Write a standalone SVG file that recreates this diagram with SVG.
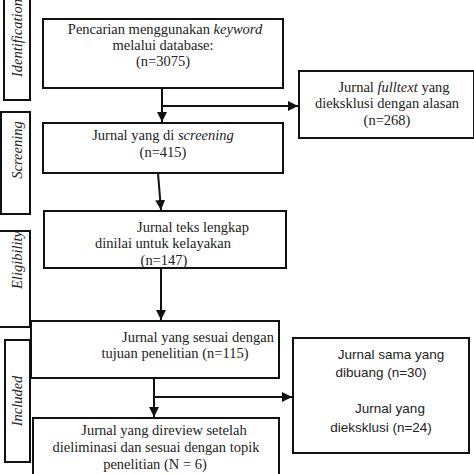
<svg xmlns="http://www.w3.org/2000/svg" width="474" height="474" viewBox="0 0 474 474">
<style>
.box{fill:#fff;stroke:#111;stroke-width:2}
.side{fill:#fff;stroke:#111;stroke-width:2}
.t{font-family:"Liberation Serif","Times New Roman",serif;font-size:14.5px;fill:#222;text-anchor:middle}
.s{font-family:"Liberation Sans",Arial,sans-serif;font-size:13.5px;fill:#222;text-anchor:middle}
.lab{font-family:"Liberation Serif","Times New Roman",serif;font-size:14.5px;font-style:italic;fill:#222;text-anchor:middle}
.ln{stroke:#111;stroke-width:2;fill:none}
</style>
<defs>
<marker id="ah" viewBox="0 0 10 10" refX="10" refY="5" markerWidth="5" markerHeight="5" orient="auto" markerUnits="strokeWidth">
<path d="M0,0 L10,5 L0,10 z" fill="#111"/>
</marker>
</defs>
<rect width="474" height="474" fill="#fff"/>
<g id="side-identification">
<rect class="side" x="4" y="-4" width="26" height="104"/>
<text class="lab" transform="translate(22,38) rotate(-90)">Identification</text>
</g>
<g id="side-screening">
<rect class="side" x="1" y="112" width="29" height="102"/>
<text class="lab" transform="translate(22,150) rotate(-90)">Screening</text>
</g>
<g id="side-eligibility">
<rect class="side" x="-2" y="231" width="32" height="96"/>
<text class="lab" transform="translate(22,260) rotate(-90)">Eligibility</text>
</g>
<g id="side-included">
<rect class="side" x="5" y="340" width="25" height="122"/>
<text class="lab" transform="translate(22,401) rotate(-90)">Included</text>
</g>
<g id="connectors">
<line class="ln" x1="162" y1="88" x2="162" y2="122" marker-end="url(#ah)"/>
<line class="ln" x1="162" y1="106" x2="298" y2="106" marker-end="url(#ah)"/>
<line class="ln" x1="158" y1="173" x2="161" y2="210" stroke-width="2.5" marker-end="url(#ah)"/>
<line class="ln" x1="161" y1="268" x2="161" y2="320" marker-end="url(#ah)"/>
<line class="ln" x1="154" y1="378" x2="154" y2="417" marker-end="url(#ah)"/>
<line class="ln" x1="154" y1="397" x2="292" y2="397" marker-end="url(#ah)"/>
</g>
<g id="box-search">
<rect class="box" x="43" y="19" width="240" height="69"/>
<text class="t" x="165" y="34">Pencarian menggunakan <tspan font-style="italic">keyword</tspan></text>
<text class="t" x="163" y="50">melalui database:</text>
<text class="t" x="163" y="66">(n=3075)</text>
</g>
<g id="box-fulltext">
<rect class="box" x="299" y="71" width="175" height="67"/>
<text class="t" x="394" y="92">Jurnal <tspan font-style="italic">fulltext</tspan> yang</text>
<text class="t" x="387" y="108">dieksklusi dengan alasan</text>
<text class="t" x="387" y="125">(n=268)</text>
</g>
<g id="box-screening">
<rect class="box" x="43" y="123" width="240" height="50"/>
<text class="t" x="163" y="140">Jurnal yang di <tspan font-style="italic">screening</tspan></text>
<text class="t" x="163" y="157">(n=415)</text>
</g>
<g id="box-eligibility">
<rect class="box" x="44" y="211" width="242" height="57"/>
<text class="t" x="193" y="232">Jurnal teks lengkap</text>
<text class="t" x="163" y="248">dinilai untuk kelayakan</text>
<text class="t" x="164" y="265">(n=147)</text>
</g>
<g id="box-sesuai">
<rect class="box" x="31" y="321" width="248" height="57"/>
<text class="t" x="198" y="342">Jurnal yang sesuai dengan</text>
<text class="t" x="175" y="358">tujuan penelitian  (n=115)</text>
</g>
<g id="box-excluded">
<rect class="box" x="293" y="338" width="176" height="115"/>
<text class="s" x="391" y="359">Jurnal sama yang</text>
<text class="s" x="381" y="377">dibuang (n=30)</text>
<text class="s" x="390" y="413">Jurnal yang</text>
<text class="s" x="381" y="432">dieksklusi (n=24)</text>
</g>
<g id="box-final">
<rect class="box" x="33" y="418" width="246" height="60"/>
<text class="t" x="164" y="435">Jurnal yang direview setelah</text>
<text class="t" x="156" y="452">dieliminasi dan sesuai dengan topik</text>
<text class="t" x="155" y="469">penelitian (N = 6)</text>
</g>
</svg>
